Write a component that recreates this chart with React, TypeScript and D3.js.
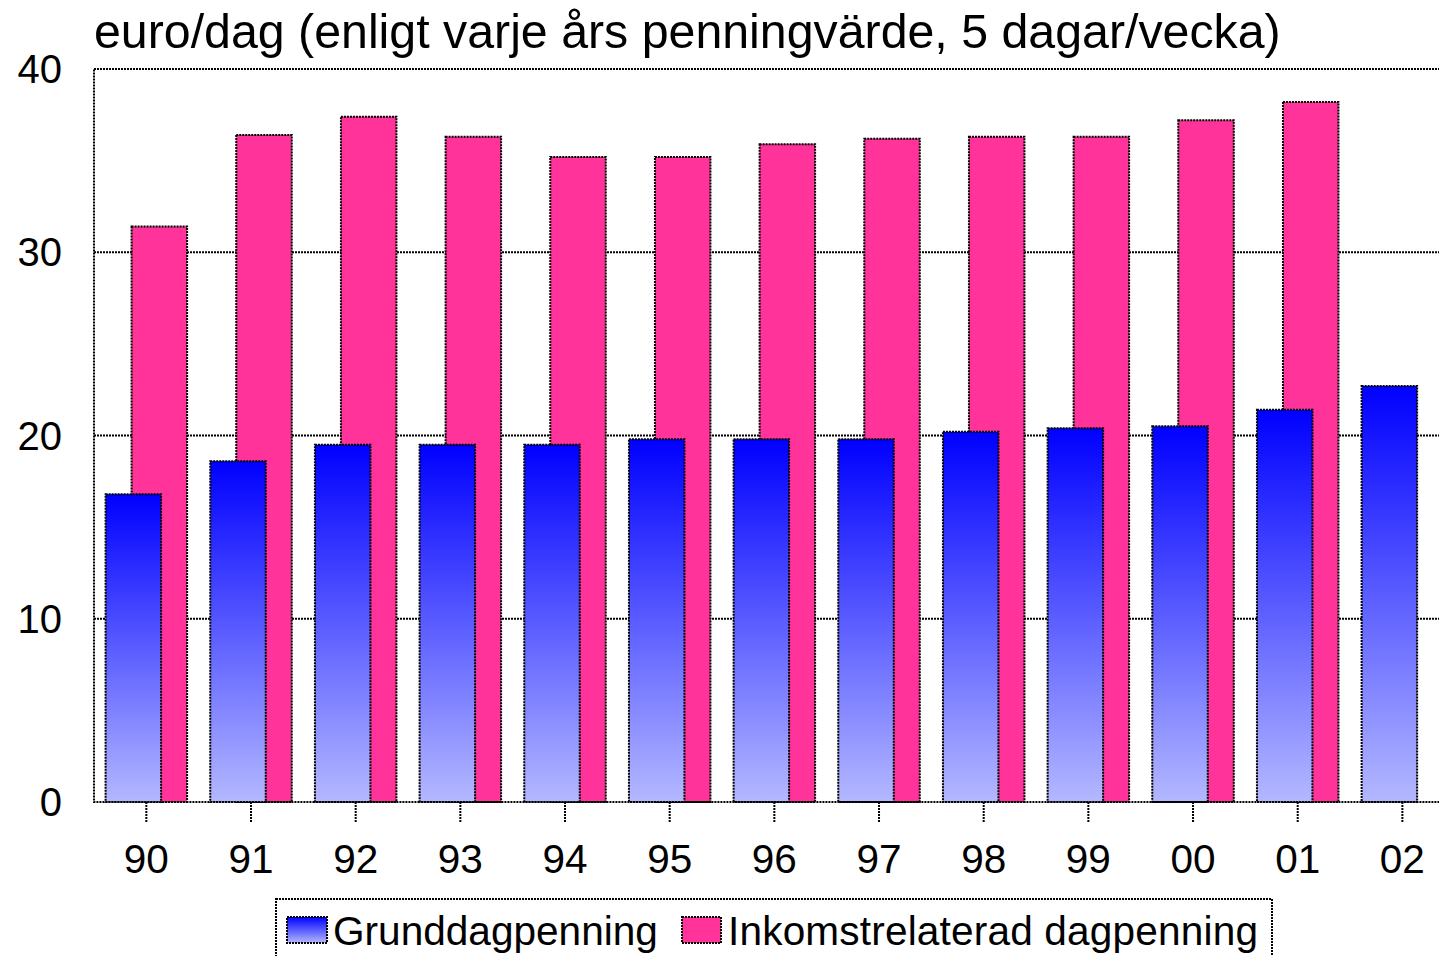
import React from "react";
import * as d3 from "d3";

const years = ["90", "91", "92", "93", "94", "95", "96", "97", "98", "99", "00", "01", "02"];
const grund = [16.8, 18.6, 19.5, 19.5, 19.5, 19.8, 19.8, 19.8, 20.2, 20.4, 20.5, 21.4, 22.7];
const inkomst: (number | null)[] = [31.4, 36.4, 37.4, 36.3, 35.2, 35.2, 35.9, 36.2, 36.3, 36.3, 37.2, 38.2, null];
const yTicks = [0, 10, 20, 30, 40];
const title = "euro/dag (enligt varje års penningvärde, 5 dagar/vecka)";
const seriesNames = ["Grunddagpenning", "Inkomstrelaterad dagpenning"];

const W = 1439;
const H = 956;
const left = 94;
const top = 69;
const bottom = 802;
const band = 104.67;
const right = left + band * years.length;
const FONT = "'Liberation Sans', Arial, sans-serif";
const PINK = "#FF3399";
const DASH = "2 1";
const SW = 2;

export default function App() {
  const x = d3.scaleBand<string>().domain(years).range([left, right]).padding(0);
  const y = d3.scaleLinear().domain([0, 40]).range([bottom, top]);
  const barW = 55.5;
  const off = 13;

  return (
    <svg width={W} height={H} style={{ position: "absolute", left: 0, top: 0, background: "#fff" }}>
      <defs>
        <linearGradient id="blueGrad" x1="0" y1="0" x2="0" y2="1">
          <stop offset="0" stopColor="#0000FF" />
          <stop offset="1" stopColor="#B4B8FF" />
        </linearGradient>
      </defs>
      <rect x={0} y={0} width={W} height={H} fill="#fff" />
      <text x={94} y={48} fontFamily={FONT} fontSize={48.3} fill="#000">{title}</text>

      {/* gridlines */}
      {yTicks.filter((t) => t > 0 && t < 40).map((t) => (
        <line key={t} x1={left} x2={right} y1={y(t)} y2={y(t)} stroke="#000" strokeWidth={SW} strokeDasharray={DASH} />
      ))}

      {/* pink bars (behind) */}
      {years.map((yr, i) => {
        const v = inkomst[i];
        if (v == null) return null;
        const cx = (x(yr) as number) + x.bandwidth() / 2 + off;
        return (
          <rect key={"p" + yr} x={cx - barW / 2} y={y(v)} width={barW} height={bottom - y(v)}
            fill={PINK} stroke="#000" strokeWidth={SW} strokeDasharray={DASH} />
        );
      })}
      {/* blue bars (front) */}
      {years.map((yr, i) => {
        const v = grund[i];
        const cx = (x(yr) as number) + x.bandwidth() / 2 - off;
        return (
          <rect key={"b" + yr} x={cx - barW / 2} y={y(v)} width={barW} height={bottom - y(v)}
            fill="url(#blueGrad)" stroke="#000" strokeWidth={SW} strokeDasharray={DASH} />
        );
      })}

      {/* plot border */}
      <rect x={left} y={top} width={right - left} height={bottom - top} fill="none" stroke="#000" strokeWidth={SW} strokeDasharray={DASH} />

      {/* y labels */}
      {yTicks.map((t) => (
        <text key={"yl" + t} x={62} y={y(t)} dy="0.35em" textAnchor="end" fontFamily={FONT} fontSize={40} fill="#000">{t}</text>
      ))}

      {/* x ticks and labels */}
      {years.map((yr) => {
        const cx = (x(yr) as number) + x.bandwidth() / 2;
        return (
          <g key={"xt" + yr}>
            <line x1={cx} x2={cx} y1={bottom} y2={823} stroke="#000" strokeWidth={SW} strokeDasharray={DASH} />
            <text x={cx} y={873} textAnchor="middle" fontFamily={FONT} fontSize={40.5} fill="#000">{yr}</text>
          </g>
        );
      })}

      {/* legend */}
      <rect x={276} y={899} width={996} height={80} fill="#fff" stroke="#000" strokeWidth={SW} strokeDasharray={DASH} />
      <rect x={287} y={917} width={40} height={26} fill="url(#blueGrad)" stroke="#000" strokeWidth={SW} strokeDasharray={DASH} />
      <text x={333} y={945} fontFamily={FONT} fontSize={40.6} fill="#000">{seriesNames[0]}</text>
      <rect x={682} y={917} width={39} height={26} fill={PINK} stroke="#000" strokeWidth={SW} strokeDasharray={DASH} />
      <text x={728} y={945} fontFamily={FONT} fontSize={40.6} fill="#000" textLength={530} lengthAdjust="spacing">{seriesNames[1]}</text>
    </svg>
  );
}
